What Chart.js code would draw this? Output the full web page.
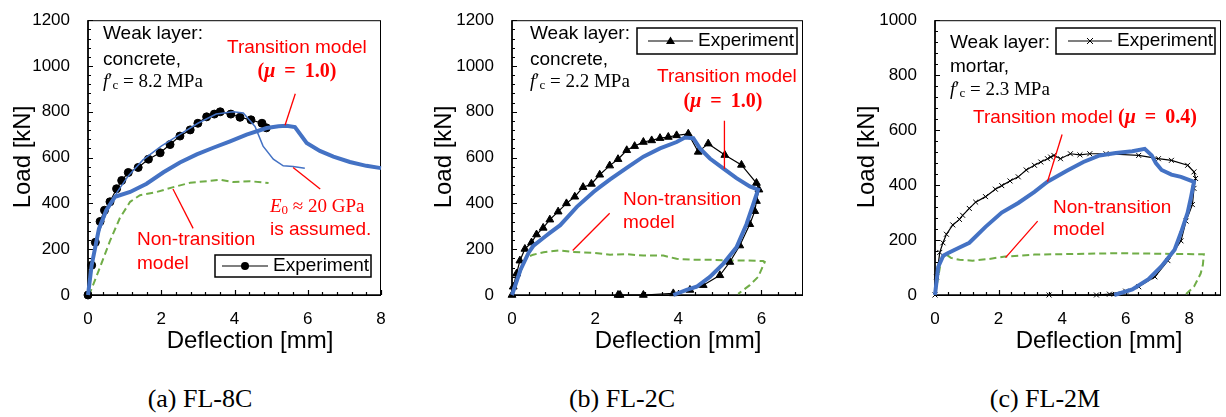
<!DOCTYPE html>
<html>
<head>
<meta charset="utf-8">
<script src="https://cdn.jsdelivr.net/npm/chart.js@4.4.1/dist/chart.umd.min.js"></script>
<style>
  body { margin: 0; background: #fff; width: 1226px; height: 417px; position: relative; overflow: hidden; }
  canvas { position: absolute; top: 0; }
  .cap { position: absolute; top: 386px; font-family: "Liberation Serif", "Times New Roman", serif; font-size: 26px; line-height: 26px; color: #000; transform: translateX(-50%); white-space: nowrap; }
</style>
</head>
<body>
<canvas id="c1" width="405" height="365" style="left:0px"></canvas>
<canvas id="c2" width="413" height="365" style="left:405px"></canvas>
<canvas id="c3" width="408" height="365" style="left:818px"></canvas>
<div class="cap" style="left:200px">(a) FL-8C</div>
<div class="cap" style="left:622px">(b) FL-2C</div>
<div class="cap" style="left:1045px">(c) FL-2M</div>
<script>
// (a) FL-8C
const a_expX = [0, 0.1, 0.2, 0.33, 0.45, 0.6, 0.78, 0.92, 1.1, 1.37, 1.65, 1.97, 2.24, 2.51, 2.79, 3.0, 3.24, 3.45, 3.61, 3.9, 4.15, 4.45, 4.75, 4.87];
const a_expY = [0, 130, 230, 321, 370, 407, 464, 500, 535, 557, 593, 621, 657, 694, 721, 750, 778, 790, 800, 790, 776, 765, 750, 730];
const a_e0X = [0, 0.2, 0.5, 0.8, 1.1, 1.5, 2.0, 2.5, 3.0, 3.5, 3.96, 4.24, 4.56, 4.78, 5.06, 5.33, 5.6, 5.92];
const a_e0Y = [0, 230, 360, 450, 520, 590, 650, 700, 750, 790, 800, 795, 736, 650, 593, 564, 561, 553];
const a_trX = [0, 0.1, 0.3, 0.5, 0.74, 1.15, 1.6, 2.06, 2.51, 2.97, 3.42, 3.88, 4.33, 4.88, 5.2, 5.42, 5.65, 5.97, 6.33, 6.7, 7.15, 7.6, 8.0];
const a_trY = [0, 130, 290, 370, 429, 450, 486, 536, 579, 614, 643, 671, 700, 729, 737, 739, 733, 664, 629, 604, 581, 564, 554];
const a_ntX = [0, 0.05, 0.33, 0.6, 0.87, 1.15, 1.42, 1.88, 2.33, 2.79, 3.24, 3.61, 3.97, 4.42, 4.93];
const a_ntY = [0, 7, 122, 236, 336, 407, 436, 450, 471, 490, 497, 503, 493, 497, 489];

// (b) FL-2C
const b_expX = [0, 0.03, 0.11, 0.19, 0.31, 0.47, 0.59, 0.75, 0.91, 1.11, 1.31, 1.51, 1.71, 1.91, 2.11, 2.35, 2.55, 2.76, 2.95, 3.16, 3.36, 3.56, 3.76, 3.96, 4.24, 4.48, 4.72, 5.12, 5.52, 5.88, 5.94, 5.88, 5.84, 5.72, 5.48, 5.24, 5.0, 4.6, 4.28, 3.88, 3.16, 2.6, 2.55];
const b_expY = [0, 36, 93, 150, 201, 229, 264, 293, 329, 364, 400, 429, 471, 485, 525, 565, 593, 632, 650, 668, 675, 685, 690, 697, 704, 625, 661, 611, 568, 489, 460, 410, 366, 309, 216, 144, 86, 43, 22, 7, 0, 0, 0];
const b_trX = [0, 0.2, 0.4, 0.51, 0.76, 0.91, 1.16, 1.31, 1.56, 1.96, 2.11, 2.36, 2.76, 3.16, 3.56, 3.96, 4.16, 4.36, 4.52, 4.76, 5.08, 5.4, 5.72, 5.92, 5.8, 5.64, 5.4, 5.08, 4.76, 4.44, 4.2, 3.88];
const b_trY = [0, 108, 185, 214, 250, 271, 305, 335, 385, 450, 471, 505, 555, 604, 640, 668, 688, 685, 640, 596, 553, 510, 474, 460, 395, 309, 208, 136, 79, 36, 22, 0];
const b_ntX = [0, 0.2, 0.35, 0.51, 0.76, 1.15, 1.47, 1.96, 2.36, 2.76, 3.16, 3.64, 3.96, 4.36, 4.76, 5.16, 5.56, 6.04, 6.08, 5.92, 5.72, 5.44];
const b_ntY = [0, 100, 164, 176, 187, 195, 188, 184, 176, 178, 172, 172, 158, 154, 154, 151, 151, 148, 144, 79, 43, 5];

// (c) FL-2M
const c_expX = [0, 0.05, 0.15, 0.25, 0.36, 0.56, 0.77, 0.87, 1.08, 1.28, 1.59, 1.9, 2.1, 2.36, 2.62, 2.87, 3.13, 3.33, 3.54, 3.64, 3.74, 3.95, 4.26, 4.56, 4.87, 5.38, 6.41, 7.03, 7.44, 7.95, 8.15, 8.2, 8.15, 8.1, 7.9, 7.74, 7.33, 6.92, 6.41, 6.0, 5.49, 5.08, 3.59];
const c_expY = [0, 66, 155, 190, 221, 255, 275, 290, 315, 338, 358, 385, 398, 415, 430, 455, 472, 484, 496, 502, 508, 496, 514, 510, 514, 514, 508, 496, 490, 472, 448, 424, 388, 329, 269, 197, 125, 66, 30, 14, 3, 0, 0];
const c_trX = [0, 0.1, 0.26, 0.4, 0.77, 1.08, 1.59, 2.1, 2.62, 3.13, 3.54, 4.15, 4.67, 5.18, 5.69, 6.21, 6.6, 6.82, 6.95, 7.13, 7.44, 7.74, 8.15, 8.05, 7.95, 7.75, 7.54, 7.13, 6.72, 6.21, 5.64];
const c_trY = [0, 102, 143, 152, 173, 190, 248, 300, 335, 375, 412, 452, 484, 508, 517, 523, 532, 508, 480, 455, 438, 430, 412, 352, 300, 230, 165, 105, 58, 20, 0];
const c_ntX = [0, 0.2, 0.35, 0.5, 0.77, 1.18, 1.69, 2.21, 3.13, 4.15, 5.69, 7.23, 8.46, 8.43, 8.36, 8.15, 7.9];
const c_ntY = [0, 130, 148, 135, 128, 125, 131, 140, 147, 149, 152, 150, 148, 110, 78, 30, 4];

const SANS = '"Liberation Sans", Arial, sans-serif';
const SERIF = '"Liberation Serif", "Times New Roman", serif';
const RED = '#ff0000', BLUE = '#4472c4', GREEN = '#70ad47';
const F19 = '19px ' + SANS, SER = '19px ' + SERIF, SERI = 'italic 19px ' + SERIF, SUB = '13px ' + SERIF;
const BOLD = 'bold 20px ' + SERIF, BOLDI = 'italic bold 20px ' + SERIF;

function pts(xs, ys) { return xs.map((x, i) => ({ x: x, y: ys[i] })); }
function fc(v) { return [{ t: 'f', f: SERI }, { t: '\u2032', f: SER }, { t: 'c', f: SUB, dy: 4 }, { t: ' = ' + v + ' MPa', f: SER }]; }
function mu(v) { return [{ t: '(', f: BOLD }, { t: '\u03bc', f: BOLDI }, { t: ' \u2009=\u2009 ' + v + ')', f: BOLD }]; }

function drawRuns(ctx, x, y, runs, align, color) {
  let w = 0;
  runs.forEach(r => { ctx.font = r.f; w += ctx.measureText(r.t).width; });
  let cx = align === 'center' ? x - w / 2 : x;
  ctx.textAlign = 'left';
  ctx.textBaseline = 'middle';
  ctx.fillStyle = color || '#000';
  runs.forEach(r => {
    ctx.font = r.f;
    ctx.fillText(r.t, cx, y + (r.dy || 0));
    cx += ctx.measureText(r.t).width;
  });
}

function drawMarker(ctx, kind, x, y) {
  ctx.fillStyle = '#000'; ctx.strokeStyle = '#000'; ctx.lineWidth = 1;
  ctx.beginPath();
  if (kind === 'circle') { ctx.arc(x, y, 4, 0, Math.PI * 2); ctx.fill(); }
  else if (kind === 'triangle') { ctx.moveTo(x, y - 4.5); ctx.lineTo(x + 4.5, y + 3); ctx.lineTo(x - 4.5, y + 3); ctx.closePath(); ctx.fill(); }
  else { ctx.moveTo(x - 3, y - 3); ctx.lineTo(x + 3, y + 3); ctx.moveTo(x + 3, y - 3); ctx.lineTo(x - 3, y + 3); ctx.stroke(); }
}

// frame, inside ticks, labels, legend, leader lines
function makeDeco(cfg) {
  return {
    id: 'deco',
    beforeDatasetsDraw(chart) {
      const { ctx, chartArea: a, scales: { x, y } } = chart;
      ctx.save();
      ctx.strokeStyle = '#000';
      ctx.lineWidth = 1;
      ctx.strokeRect(a.left, a.top + 0.5, a.right - a.left - 0.5, a.bottom - a.top);
      ctx.lineWidth = 1.6;
      ctx.beginPath();
      ctx.moveTo(a.left, a.top); ctx.lineTo(a.left, a.bottom); ctx.lineTo(a.right, a.bottom);
      ctx.stroke();
      ctx.lineWidth = 1.2;
      ctx.beginPath();
      for (let i = 0; ; i++) {
        const v = i * cfg.xStep / 5;
        if (v > x.max + 1e-9) break;
        const p = Math.round(x.getPixelForValue(v)) + 0.5;
        ctx.moveTo(p, a.bottom); ctx.lineTo(p, a.bottom - (i % 5 === 0 ? 5 : 3));
      }
      for (let i = 0; ; i++) {
        const v = i * cfg.yStep / 5;
        if (v > y.max + 1e-9) break;
        const p = Math.round(y.getPixelForValue(v)) + 0.5;
        ctx.moveTo(a.left, p); ctx.lineTo(a.left + (i % 5 === 0 ? 5 : 3), p);
      }
      ctx.stroke();
      ctx.restore();
    },
    afterDatasetsDraw(chart) {
      const { ctx, scales: { x, y } } = chart;
      const o = cfg.off;
      ctx.save();
      // leader lines
      ctx.strokeStyle = RED; ctx.lineWidth = 1.3;
      cfg.leaders.forEach(l => {
        ctx.beginPath();
        ctx.moveTo(x.getPixelForValue(l[0]), y.getPixelForValue(l[1]));
        ctx.lineTo(x.getPixelForValue(l[2]), y.getPixelForValue(l[3]));
        ctx.stroke();
      });
      // notes
      cfg.notes.forEach(n => {
        const runs = n.runs || [{ t: n.s, f: F19 }];
        drawRuns(ctx, n.x - o, n.y, runs, n.align, n.c);
      });
      // legend
      const L = cfg.legend;
      ctx.fillStyle = '#fff';
      ctx.fillRect(L.x0 - o, L.y0, L.x1 - L.x0, L.y1 - L.y0);
      ctx.strokeStyle = '#000'; ctx.lineWidth = 1.5;
      ctx.strokeRect(L.x0 - o, L.y0, L.x1 - L.x0, L.y1 - L.y0);
      const ly = (L.y0 + L.y1) / 2;
      ctx.lineWidth = 1.2;
      ctx.beginPath(); ctx.moveTo(L.lx0 - o, ly); ctx.lineTo(L.lx1 - o, ly); ctx.stroke();
      drawMarker(ctx, cfg.marker, (L.lx0 + L.lx1) / 2 - o, ly);
      drawRuns(ctx, L.lx1 + 5 - o, ly, [{ t: 'Experiment', f: F19 }]);
      // axis titles
      drawRuns(ctx, cfg.xTitle[0] - o, cfg.xTitle[1], [{ t: 'Deflection [mm]', f: '24px ' + SANS }], 'center');
      ctx.translate(cfg.yTitle[0] - o, cfg.yTitle[1]);
      ctx.rotate(-Math.PI / 2);
      drawRuns(ctx, 0, 0, [{ t: 'Load [kN]', f: '24px ' + SANS }], 'center');
      ctx.restore();
    }
  };
}

function build(id, cfg) {
  const expStyle = {
    label: 'Experiment', data: pts(cfg.expX, cfg.expY), borderColor: '#000', backgroundColor: '#000',
    borderWidth: 1.2, pointStyle: cfg.marker === 'cross' ? 'crossRot' : cfg.marker,
    pointRadius: cfg.marker === 'circle' ? 4 : (cfg.marker === 'triangle' ? 4.5 : 3.5),
    pointBorderWidth: 1, showLine: true, order: 2, clip: false
  };
  const datasets = [
    { label: 'Transition', data: pts(cfg.trX, cfg.trY), borderColor: BLUE, borderWidth: 4, pointRadius: 0, showLine: true, order: 0, clip: false },
    expStyle,
    { label: 'Non-transition', data: pts(cfg.ntX, cfg.ntY), borderColor: GREEN, borderWidth: 2, borderDash: [7, 4], pointRadius: 0, showLine: true, order: 3, clip: false }
  ];
  if (cfg.e0X) {
    datasets.push({ label: 'E0', data: pts(cfg.e0X, cfg.e0Y), borderColor: BLUE, borderWidth: 1.5, pointRadius: 0, showLine: true, order: 1, clip: false });
  }
  const tickFont = { family: SANS, size: 17 };
  new Chart(document.getElementById(id), {
    type: 'scatter',
    data: { datasets: datasets },
    options: {
      responsive: false, animation: false, devicePixelRatio: 1,
      layout: { padding: { top: cfg.top, right: cfg.right, left: 0, bottom: 0 } },
      plugins: { legend: { display: false }, tooltip: { enabled: false } },
      scales: {
        x: {
          type: 'linear', min: 0, max: cfg.xMax,
          grid: { display: false }, border: { display: false },
          ticks: { stepSize: cfg.xStep, includeBounds: false, autoSkip: false, maxRotation: 0, padding: 6, color: '#000', font: tickFont, callback: v => String(v) },
          afterFit: s => { s.height = 365 - 295; }
        },
        y: {
          type: 'linear', min: 0, max: cfg.yMax,
          grid: { display: false }, border: { display: false },
          ticks: { stepSize: cfg.yStep, autoSkip: false, padding: 10, color: '#000', font: tickFont, callback: v => String(v) },
          afterFit: s => { s.width = cfg.yW; }
        }
      }
    },
    plugins: [makeDeco(cfg)]
  });
}

build('c1', {
  off: 0, yW: 88, top: 15, right: 24, xMax: 8, xStep: 2, yMax: 1200, yStep: 200, marker: 'circle',
  expX: a_expX, expY: a_expY, trX: a_trX, trY: a_trY, ntX: a_ntX, ntY: a_ntY, e0X: a_e0X, e0Y: a_e0Y,
  xTitle: [250, 341], yTitle: [23, 157],
  legend: { x0: 215, x1: 371, y0: 255, y1: 277, lx0: 222, lx1: 268 },
  leaders: [[5.66, 879, 5.38, 741], [6.34, 463, 5.6, 557], [2.87, 291, 2.32, 463]],
  notes: [
    { x: 103, y: 34, s: 'Weak layer:' }, { x: 103, y: 60, s: 'concrete,' }, { x: 103, y: 82, runs: fc('8.2') },
    { x: 227, y: 48, s: 'Transition model', c: RED }, { x: 297, y: 72, runs: mu('1.0'), align: 'center', c: RED },
    { x: 270, y: 207, runs: [{ t: 'E', f: SERI }, { t: '0', f: SUB, dy: 4 }, { t: ' \u2248 20 GPa', f: SER }], c: RED },
    { x: 270, y: 230, s: 'is assumed.', c: RED },
    { x: 137, y: 240, s: 'Non-transition', c: RED }, { x: 137, y: 264, s: 'model', c: RED }
  ]
});

build('c2', {
  off: 405, yW: 107, top: 16, right: 15, xMax: 7, xStep: 2, yMax: 1200, yStep: 200, marker: 'triangle',
  expX: b_expX, expY: b_expY, trX: b_trX, trY: b_trY, ntX: b_ntX, ntY: b_ntY,
  xTitle: [678, 341], yTitle: [444, 157],
  legend: { x0: 637, x1: 797, y0: 28, y1: 54, lx0: 648, lx1: 693 },
  leaders: [[5.11, 761, 5.11, 551], [2.35, 357, 1.46, 194]],
  notes: [
    { x: 530, y: 34, s: 'Weak layer:' }, { x: 530, y: 60, s: 'concrete,' }, { x: 530, y: 82, runs: fc('2.2') },
    { x: 657, y: 77, s: 'Transition model', c: RED }, { x: 723, y: 102, runs: mu('1.0'), align: 'center', c: RED },
    { x: 623, y: 200, s: 'Non-transition', c: RED }, { x: 623, y: 223, s: 'model', c: RED }
  ]
});

build('c3', {
  off: 818, yW: 117, top: 16, right: 1, xMax: 9, xStep: 2, yMax: 1000, yStep: 200, marker: 'cross',
  expX: c_expX, expY: c_expY, trX: c_trX, trY: c_trY, ntX: c_ntX, ntY: c_ntY,
  xTitle: [1099, 341], yTitle: [867, 157],
  legend: { x0: 1056, x1: 1215, y0: 28, y1: 54, lx0: 1068, lx1: 1112 },
  leaders: [[4.0, 584, 3.54, 412], [3.23, 269, 2.22, 136]],
  notes: [
    { x: 950, y: 43, s: 'Weak layer:' }, { x: 950, y: 67, s: 'mortar,' }, { x: 950, y: 90, runs: fc('2.3') },
    { x: 973, y: 118, runs: [{ t: 'Transition model ', f: F19 }].concat(mu('0.4')), c: RED },
    { x: 1053, y: 208, s: 'Non-transition', c: RED }, { x: 1053, y: 230, s: 'model', c: RED }
  ]
});
</script>
</body>
</html>
